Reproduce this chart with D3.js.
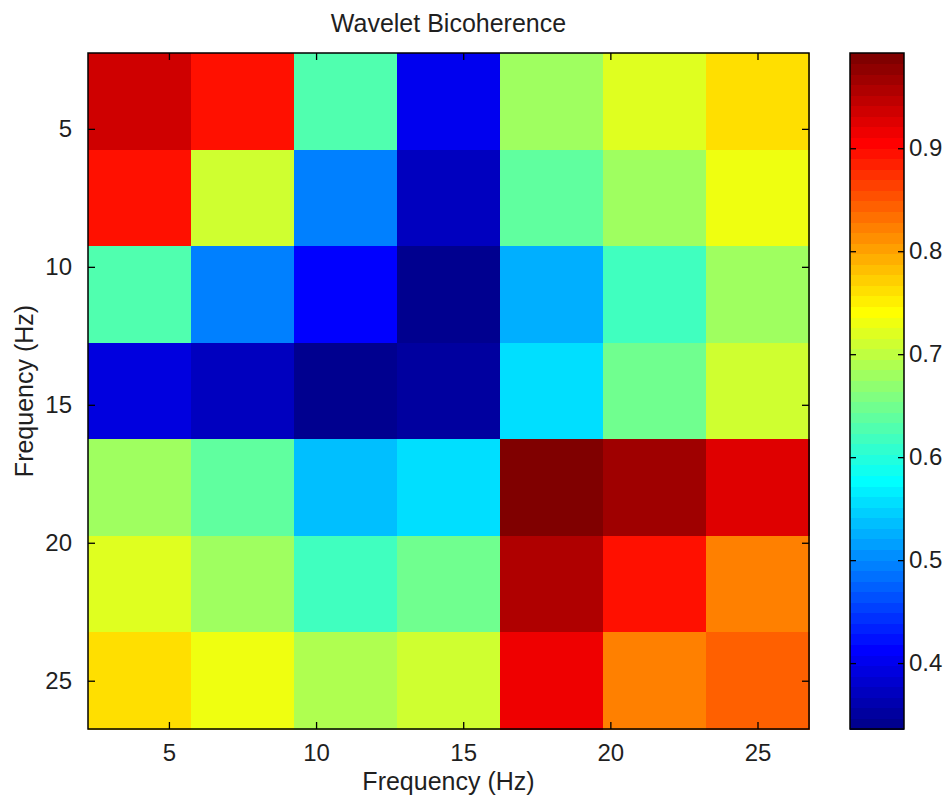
<!DOCTYPE html>
<html>
<head>
<meta charset="utf-8">
<script src="https://cdn.jsdelivr.net/npm/d3@7"></script>
<style>
  html, body { margin: 0; padding: 0; background: #fff; }
  svg text { font-family: "Liberation Sans", Arial, sans-serif; fill: #1f1f1f; }
</style>
</head>
<body>
<svg id="chart" width="949" height="804"></svg>
<script>
// Bin centres (Hz) on both frequency axes
const freqs = [4, 7.5, 11, 14.5, 18, 21.5, 25];
const binWidth = 3.5;
const axisTicks = [5, 10, 15, 20, 25];
const colorTicks = [0.4, 0.5, 0.6, 0.7, 0.8, 0.9];
const colorLimits = [0.336, 0.9925];

// Bicoherence values, one row per frequency bin (top to bottom)
const bicoherence = [
  [0.935, 0.900, 0.632, 0.400, 0.680, 0.725, 0.762],
  [0.900, 0.710, 0.495, 0.367, 0.640, 0.682, 0.728],
  [0.632, 0.490, 0.412, 0.336, 0.522, 0.615, 0.682],
  [0.395, 0.368, 0.340, 0.348, 0.556, 0.650, 0.708],
  [0.680, 0.636, 0.532, 0.552, 0.9925, 0.966, 0.925],
  [0.720, 0.684, 0.618, 0.646, 0.961, 0.891, 0.826],
  [0.762, 0.732, 0.692, 0.706, 0.920, 0.826, 0.848]
];

// MATLAB-style jet colormap with m entries
function jet(m) {
  const n = Math.ceil(m / 4);
  const u = [];
  for (let i = 1; i <= n; i++) u.push(i / n);
  for (let i = 1; i < n; i++) u.push(1);
  for (let i = n; i >= 1; i--) u.push(i / n);
  const off = Math.ceil(n / 2) - (m % 4 === 1 ? 1 : 0);
  const map = [];
  for (let k = 0; k < m; k++) {
    const gi = k - off;
    const ri = gi - n;
    const bi = gi + n;
    const r = ri >= 0 && ri < u.length ? u[ri] : 0;
    const g = gi >= 0 && gi < u.length ? u[gi] : 0;
    const b = bi >= 0 && bi < u.length ? u[bi] : 0;
    map.push(d3.rgb(r * 255, g * 255, b * 255).formatHex());
  }
  return map;
}
const cmap = jet(64);
const colorIndex = v => {
  const t = (v - colorLimits[0]) / (colorLimits[1] - colorLimits[0]);
  return Math.max(0, Math.min(63, Math.floor(t * 64)));
};
const color = v => cmap[colorIndex(v)];

const svg = d3.select("#chart");
const plot = { left: 88, right: 809, top: 53, bottom: 729 };
const domain = [freqs[0] - binWidth / 2, freqs[freqs.length - 1] + binWidth / 2];
const x = d3.scaleLinear().domain(domain).range([plot.left, plot.right]);
const y = d3.scaleLinear().domain(domain).range([plot.top, plot.bottom]);

// Heatmap cells
const cells = [];
bicoherence.forEach((row, i) => row.forEach((v, j) => cells.push({ fx: freqs[j], fy: freqs[i], v })));
svg.append("g").selectAll("rect").data(cells).join("rect")
  .attr("x", d => x(d.fx - binWidth / 2))
  .attr("y", d => y(d.fy - binWidth / 2))
  .attr("width", d => x(d.fx + binWidth / 2) - x(d.fx - binWidth / 2) + 0.5)
  .attr("height", d => y(d.fy + binWidth / 2) - y(d.fy - binWidth / 2) + 0.5)
  .attr("fill", d => color(d.v))
  .attr("shape-rendering", "crispEdges");

// Axes: ticks pointing inward on all four sides
const tickLen = 7;
const tickFont = 24;
const labelFont = 25;
const axisStyle = g => {
  g.select(".domain").remove();
  g.selectAll("line").attr("stroke", "#000").attr("stroke-width", 1.3);
  g.selectAll("text").attr("font-size", tickFont).attr("fill", "#1f1f1f")
    .style("font-family", "'Liberation Sans', Arial, sans-serif");
};
svg.append("g").attr("transform", `translate(0,${plot.bottom})`)
  .call(d3.axisBottom(x).tickValues(axisTicks).tickSizeInner(-tickLen).tickSizeOuter(0).tickPadding(15))
  .call(axisStyle);
svg.append("g").attr("transform", `translate(0,${plot.top})`)
  .call(d3.axisTop(x).tickValues(axisTicks).tickSizeInner(-tickLen).tickSizeOuter(0).tickFormat(""))
  .call(axisStyle);
svg.append("g").attr("transform", `translate(${plot.left},0)`)
  .call(d3.axisLeft(y).tickValues(axisTicks).tickSizeInner(-tickLen).tickSizeOuter(0).tickPadding(16))
  .call(axisStyle);
svg.append("g").attr("transform", `translate(${plot.right},0)`)
  .call(d3.axisRight(y).tickValues(axisTicks).tickSizeInner(-tickLen).tickSizeOuter(0).tickFormat(""))
  .call(axisStyle);

svg.append("rect")
  .attr("x", plot.left).attr("y", plot.top)
  .attr("width", plot.right - plot.left).attr("height", plot.bottom - plot.top)
  .attr("fill", "none").attr("stroke", "#000").attr("stroke-width", 1.5);

// Titles
svg.append("text").attr("x", (plot.left + plot.right) / 2).attr("y", 32)
  .attr("text-anchor", "middle").attr("font-size", labelFont).text("Wavelet Bicoherence");
svg.append("text").attr("x", (plot.left + plot.right) / 2).attr("y", 790)
  .attr("text-anchor", "middle").attr("font-size", labelFont).text("Frequency (Hz)");
svg.append("text")
  .attr("transform", `translate(33,${(plot.top + plot.bottom) / 2}) rotate(-90)`)
  .attr("text-anchor", "middle").attr("font-size", labelFont).text("Frequency (Hz)");

// Colorbar
const cb = { left: 850, right: 904, top: plot.top, bottom: plot.bottom };
const cy = d3.scaleLinear().domain(colorLimits).range([cb.bottom, cb.top]);
const step = (colorLimits[1] - colorLimits[0]) / 64;
const bands = d3.range(64).map(k => ({ lo: colorLimits[0] + k * step, hi: colorLimits[0] + (k + 1) * step, c: cmap[k] }));
svg.append("g").selectAll("rect").data(bands).join("rect")
  .attr("x", cb.left).attr("width", cb.right - cb.left)
  .attr("y", d => cy(d.hi)).attr("height", d => cy(d.lo) - cy(d.hi) + 0.5)
  .attr("fill", d => d.c).attr("shape-rendering", "crispEdges");
svg.append("g").attr("transform", `translate(${cb.right},0)`)
  .call(d3.axisRight(cy).tickValues(colorTicks).tickSizeInner(-6).tickSizeOuter(0).tickPadding(5).tickFormat(d3.format(".1f")))
  .call(axisStyle);
svg.append("g").attr("transform", `translate(${cb.left},0)`)
  .call(d3.axisLeft(cy).tickValues(colorTicks).tickSizeInner(-6).tickSizeOuter(0).tickFormat(""))
  .call(axisStyle);
svg.append("rect")
  .attr("x", cb.left).attr("y", cb.top)
  .attr("width", cb.right - cb.left).attr("height", cb.bottom - cb.top)
  .attr("fill", "none").attr("stroke", "#000").attr("stroke-width", 1.5);
</script>
</body>
</html>
